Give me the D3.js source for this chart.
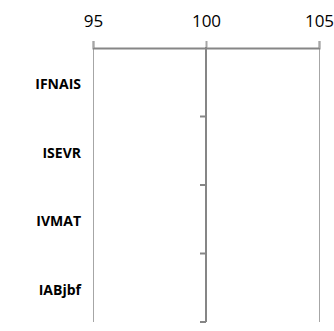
<!DOCTYPE html>
<html>
<head>
<meta charset="utf-8">
<script src="https://cdn.jsdelivr.net/npm/d3@7"></script>
<style>
  html, body { margin: 0; padding: 0; background: #ffffff; }
  svg { display: block; }
</style>
</head>
<body>
<div id="chart"></div>
<script>
// Data
const categories = ['IFNAIS', 'ISEVR', 'IVMAT', 'IABjbf'];
const values     = [100, 100, 100, 100];
const baseValue  = 100;
const xTicks     = [95, 100, 105];

const width = 334, height = 331;
const margin = { top: 48, right: 15, bottom: 9, left: 93 };

const svg = d3.select('#chart')
  .append('svg')
  .attr('width', width)
  .attr('height', height);

const x = d3.scaleLinear()
  .domain([95, 105])
  .range([margin.left, width - margin.right]);

const y = d3.scaleBand()
  .domain(categories)
  .range([margin.top, height - margin.bottom])
  .padding(0);

// Vertical gridlines (skip the base line, drawn as axis)
svg.append('g')
  .selectAll('line')
  .data(xTicks.filter(t => t !== baseValue))
  .join('line')
  .attr('x1', d => x(d)).attr('x2', d => x(d))
  .attr('y1', margin.top - 7)
  .attr('y2', height - margin.bottom)
  .attr('stroke', '#a6a6a6')
  .attr('stroke-width', 1)
  .attr('shape-rendering', 'crispEdges');

// Top axis
const xAxis = svg.append('g')
  .attr('transform', `translate(0,${margin.top})`)
  .call(d3.axisTop(x).tickValues(xTicks).tickSize(7).tickPadding(14));
xAxis.select('.domain')
  .attr('stroke', '#868686')
  .attr('stroke-width', 2);
xAxis.selectAll('.tick line')
  .attr('stroke', '#a6a6a6')
  .attr('stroke-width', d => d === baseValue ? 2 : 1);
xAxis.selectAll('.tick text')
  .attr('fill', '#000000')
  .style('font-family', 'Open Sans, sans-serif')
  .style('font-size', '17px');

// Bars (zero-length at base)
svg.append('g')
  .selectAll('rect')
  .data(categories.map((c, i) => ({ cat: c, value: values[i] })))
  .join('rect')
  .attr('x', d => Math.min(x(baseValue), x(d.value)))
  .attr('width', d => Math.abs(x(d.value) - x(baseValue)))
  .attr('y', d => y(d.cat) + y.bandwidth() * 0.2)
  .attr('height', y.bandwidth() * 0.6)
  .attr('fill', '#4f81bd');

// Category axis at base value
const x0 = x(baseValue);
svg.append('line')
  .attr('x1', x0).attr('x2', x0)
  .attr('y1', margin.top - 1)
  .attr('y2', height - margin.bottom)
  .attr('stroke', '#868686')
  .attr('stroke-width', 2);

svg.append('g')
  .selectAll('line')
  .data(categories)
  .join('line')
  .attr('x1', x0 - 6).attr('x2', x0)
  .attr('y1', d => y(d) + y.bandwidth())
  .attr('y2', d => y(d) + y.bandwidth())
  .attr('stroke', '#868686')
  .attr('stroke-width', 2);

// Category labels
svg.append('g')
  .selectAll('text')
  .data(categories)
  .join('text')
  .attr('x', 81)
  .attr('y', d => y(d) + y.bandwidth() / 2 + 2)
  .attr('dy', '0.35em')
  .attr('text-anchor', 'end')
  .style('font-family', 'Open Sans, sans-serif')
  .style('font-weight', 'bold')
  .style('font-size', '14px')
  .attr('fill', '#000000')
  .text(d => d);
</script>
</body>
</html>
